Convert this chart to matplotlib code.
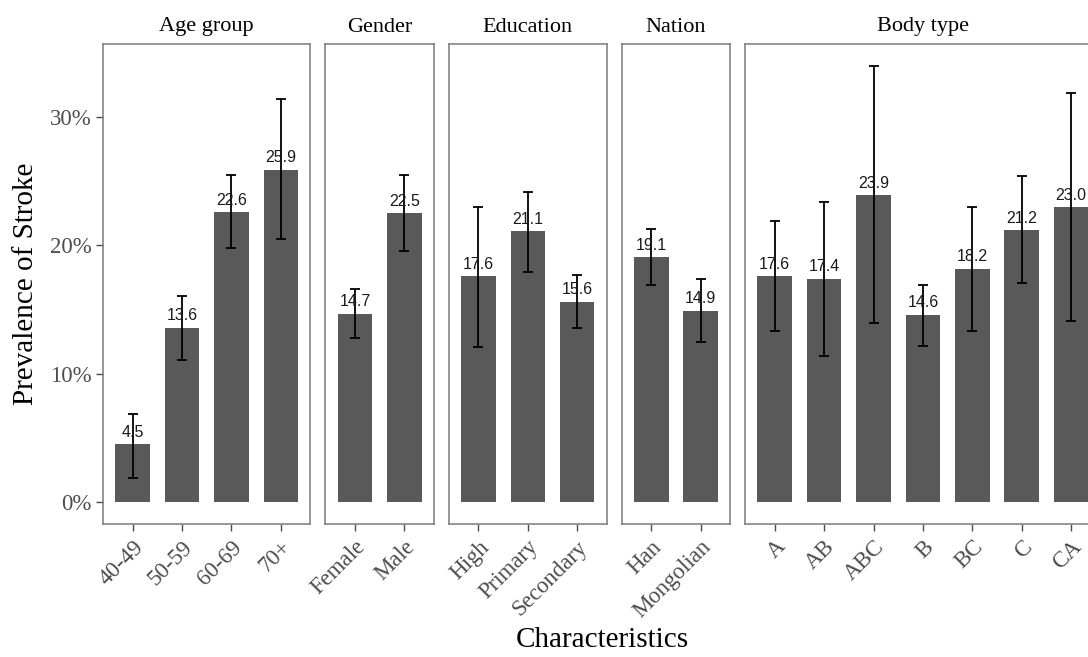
import numpy as np
import matplotlib.pyplot as plt
import matplotlib as mpl
from matplotlib.ticker import FuncFormatter

# data (prevalence %, with 95% CI)
groups = ['Age group', 'Gender', 'Education', 'Nation', 'Body type']

age_labels = ['40-49', '50-59', '60-69', '70+']
age_prev = [4.5, 13.6, 22.6, 25.9]
age_low = [1.9, 11.1, 19.8, 20.5]
age_high = [6.9, 16.1, 25.5, 31.4]

gender_labels = ['Female', 'Male']
gender_prev = [14.7, 22.5]
gender_low = [12.8, 19.6]
gender_high = [16.6, 25.5]

edu_labels = ['High', 'Primary', 'Secondary']
edu_prev = [17.6, 21.1, 15.6]
edu_low = [12.1, 17.9, 13.6]
edu_high = [23.0, 24.2, 17.7]

nation_labels = ['Han', 'Mongolian']
nation_prev = [19.1, 14.9]
nation_low = [16.9, 12.5]
nation_high = [21.3, 17.4]

body_labels = ['A', 'AB', 'ABC', 'B', 'BC', 'C', 'CA']
body_prev = [17.6, 17.4, 23.9, 14.6, 18.2, 21.2, 23.0]
body_low = [13.3, 11.4, 14.0, 12.2, 13.3, 17.1, 14.1]
body_high = [21.9, 23.4, 34.0, 16.9, 23.0, 25.4, 31.9]

panels = [
    (age_labels, age_prev, age_low, age_high),
    (gender_labels, gender_prev, gender_low, gender_high),
    (edu_labels, edu_prev, edu_low, edu_high),
    (nation_labels, nation_prev, nation_low, nation_high),
    (body_labels, body_prev, body_low, body_high),
]

serif = ['Liberation Serif', 'DejaVu Serif']
sans = ['Liberation Sans', 'DejaVu Sans']
mpl.rcParams.update({"font.family": serif})

W, H = 1088, 657
fig = plt.figure(figsize=(W / 100, H / 100), dpi=100)

# layout in pixels (ggplot facet_grid, free x space)
left_px = 103
unit_px = 49.4
gap_px = 14.8
top_px, bot_px = 44, 524
ymin, ymax = -1.7, 35.7

border = '#7a7a7a'
x = left_px
for i, (labs, prev, low, high) in enumerate(panels):
    n = len(labs)
    w = (n + 0.2) * unit_px
    ax = fig.add_axes([x / W, 1 - bot_px / H, w / W, (bot_px - top_px) / H])
    x += w + gap_px

    pos = np.arange(n)
    prev = np.array(prev)
    ax.bar(pos, prev, width=0.7, color='#595959', zorder=2)
    ax.errorbar(pos, prev, yerr=[prev - np.array(low), np.array(high) - prev],
                fmt='none', ecolor='black', elinewidth=1.3, capsize=3.3,
                capthick=1.3, zorder=3)
    for p, v in zip(pos, prev):
        ax.text(p, v + 0.35, f'{v:.1f}', ha='center', va='bottom',
                fontsize=11.5, family=sans, color='#1a1a1a', zorder=4)

    ax.set_xlim(-0.6, n - 0.4)
    ax.set_ylim(ymin, ymax)
    ax.set_xticks(pos)
    ax.set_xticklabels(labs, rotation=45, ha='right', va='top',
                       rotation_mode='anchor', fontsize=16.5, color='#4d4d4d')
    ax.tick_params(axis='x', length=5, width=1, color='#4d4d4d', pad=4)
    for s in ax.spines.values():
        s.set_color(border)
        s.set_linewidth(1.1)
    ax.set_title(groups[i], fontsize=16, pad=9)
    if i == 0:
        ax.set_yticks([0, 10, 20, 30])
        ax.yaxis.set_major_formatter(FuncFormatter(lambda v, p: f'{v:.0f}%'))
        ax.tick_params(axis='y', length=5, width=1, color='#4d4d4d',
                       labelsize=16.5, labelcolor='#4d4d4d', pad=3)
        ax.set_ylabel('Prevalence of Stroke', fontsize=21, labelpad=8)
    else:
        ax.set_yticks([])

fig.text(602 / W, 1 - 640 / H, 'Characteristics', ha='center', va='center',
         fontsize=21)

plt.savefig('out.png', dpi=100)
